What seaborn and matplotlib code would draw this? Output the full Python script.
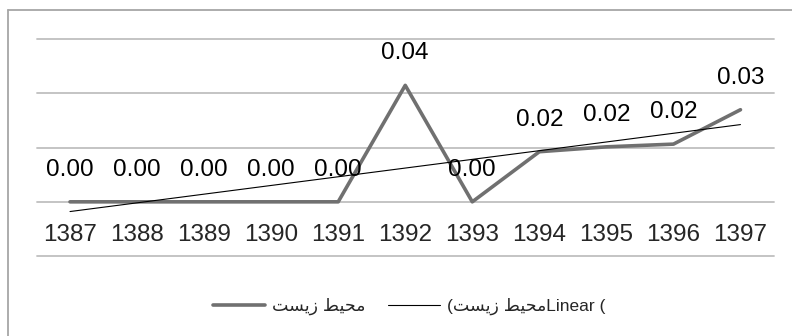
import numpy as np
import pandas as pd
import seaborn as sns
import matplotlib
matplotlib.use('Agg')
import matplotlib.pyplot as plt
from matplotlib.lines import Line2D

# data
years = ['1387', '1388', '1389', '1390', '1391', '1392',
         '1393', '1394', '1395', '1396', '1397']
values = [0.0, 0.0, 0.0, 0.0, 0.0, 0.043, 0.0, 0.0185, 0.0203, 0.0213, 0.034]

# "محیط زیست" written in presentation forms, visual order (matplotlib has no bidi)
series_name = '\uFE96\uFEB4\uFEF3\uFEAF \uFEC2\uFEF4\uFEA4\uFEE3'
trend_name = '(' + series_name + 'Linear ('

df = pd.DataFrame({'idx': np.arange(len(years)), 'year': years, 'value': values})

sns.set_style('white')
plt.rcParams['font.family'] = ['Liberation Sans', 'DejaVu Sans']

fig = plt.figure(figsize=(7.92, 3.36), dpi=100)
ax = fig.add_axes([36.5 / 792, 1 - 256 / 336, (774 - 36.5) / 792, (256 - 39.3) / 336])

grid_col = '#bfbfbf'
sns.lineplot(data=df, x='idx', y='value', ax=ax, color='#707070', lw=2.6,
             label=series_name, zorder=3)
sns.regplot(data=df, x='idx', y='value', ax=ax, scatter=False, ci=None,
            line_kws={'color': 'black', 'lw': 0.8, 'label': trend_name, 'zorder': 4})

# data labels
for i, v in zip(df['idx'], df['value']):
    ax.annotate(f'{v:.2f}', (i, v), xytext=(0, 23), textcoords='offset points',
                ha='center', va='center', fontsize=17.5, color='black', zorder=5)

ax.set_xlim(-0.5, len(years) - 0.5)
ax.set_ylim(-0.02, 0.06)
ax.set_yticks([-0.02, 0.0, 0.02, 0.04, 0.06])
ax.set_yticklabels([])
ax.set_xticks(df['idx'], labels=years)
ax.spines['bottom'].set_position(('data', 0))
for s in ax.spines.values():
    s.set_visible(False)
ax.tick_params(axis='x', length=0, pad=16, labelsize=17.5)
ax.tick_params(axis='y', length=0)
ax.yaxis.grid(True, color=grid_col, lw=1.3)
for gl in ax.get_ygridlines():
    gl.set_clip_on(False)
ax.xaxis.grid(False)
ax.set_xlabel('')
ax.set_ylabel('')

ax.get_legend().remove()
handles = [Line2D([], [], color='#707070', lw=2.6, solid_capstyle='round'),
           Line2D([], [], color='black', lw=0.8)]
fig.legend(handles, [series_name, trend_name], loc='center',
           bbox_to_anchor=(0.517, 1 - 306.7 / 336), ncol=2, frameon=False,
           fontsize=12.5, handlelength=3.0, handletextpad=0.4, columnspacing=1.3)

# chart border (only left and top visible in the crop)
border = '#a6a6a6'
fig.add_artist(Line2D([7.5 / 792, 7.5 / 792], [0, 1 - 10 / 336], color=border, lw=1.3,
                      transform=fig.transFigure))
fig.add_artist(Line2D([7.5 / 792, 1], [1 - 10 / 336, 1 - 10 / 336], color=border, lw=1.3,
                      transform=fig.transFigure))

fig.savefig('out.png', dpi=100)
plt.close()
